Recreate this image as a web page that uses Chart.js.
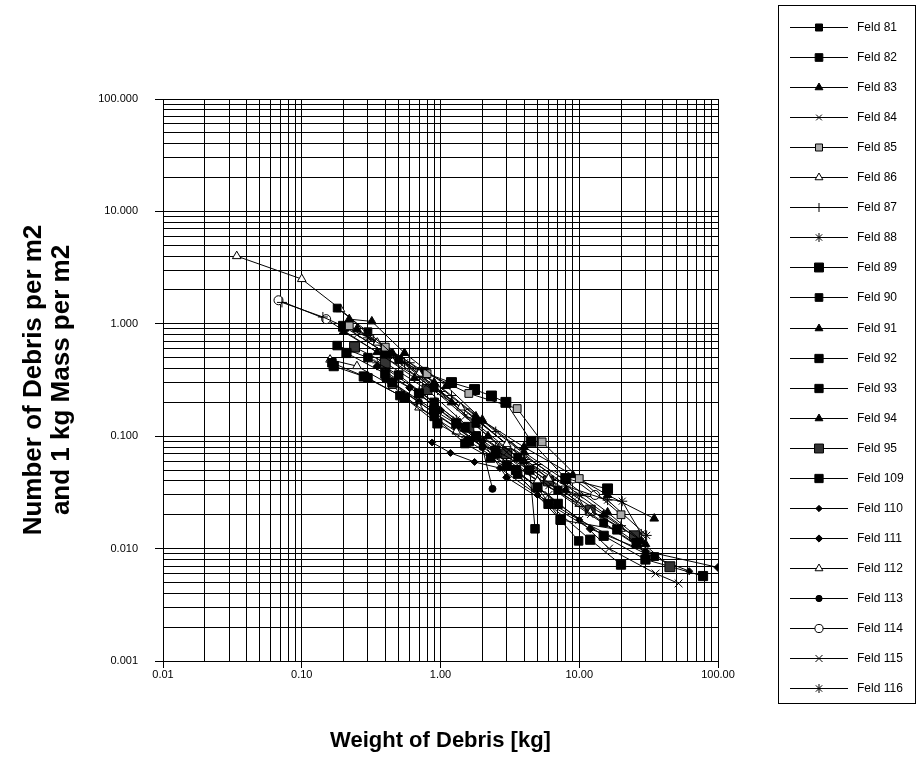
<!doctype html>
<html>
<head>
<title>Debris per m2</title>
<script src="https://cdn.jsdelivr.net/npm/chart.js@4.4.1/dist/chart.umd.min.js"></script>
<style>
  html, body { margin: 0; padding: 0; background: #fff; }
</style>
</head>
<body>
<canvas id="chart" width="918" height="764"></canvas>
<script>
// decade ticks and their labels
const xTicks = [0.01, 0.1, 1, 10, 100];
const xTickLabels = ['0.01', '0.10', '1.00', '10.00', '100.00'];
const yTicks = [0.001, 0.01, 0.1, 1, 10, 100];
const yTickLabels = ['0.001', '0.010', '0.100', '1.000', '10.000', '100.000'];

// series: [weight kg, number per m2]
const feld81 = [[0.18,1.38],[0.3,0.85],[0.5,0.48],[0.9,0.27],[1.8,0.13],[3.6,0.065],[7,0.033],[15,0.017],[35,0.0085]];
const feld82 = [[0.165,0.45],[0.3,0.33],[0.51,0.23],[0.9,0.15],[1.5,0.086],[2.3,0.064],[3.6,0.046],[7.3,0.018],[9.9,0.0117]];
const feld83 = [[0.22,1.1],[0.32,1.05],[0.55,0.55],[1.1,0.28],[2,0.14],[4,0.072],[8,0.04],[16,0.021],[30,0.011]];
const feld84 = [[0.25,0.8],[0.45,0.5],[0.8,0.29],[1.5,0.15],[3,0.072],[6,0.036],[12,0.02],[25,0.011]];
const feld85 = [[0.22,0.96],[0.4,0.62],[0.8,0.36],[1.6,0.24],[3.57,0.176],[5.4,0.089],[10,0.042],[20,0.02]];
const feld86 = [[0.034,4.0],[0.1,2.5],[0.19,1.35],[0.35,0.68],[0.7,0.36],[1.4,0.18],[3,0.085],[6,0.042],[12,0.021]];
const feld87 = [[0.072,1.55],[0.142,1.15],[0.33,0.72],[0.6,0.45],[1.2,0.23],[2.5,0.11],[5,0.056],[10,0.03],[20,0.016]];
const feld88 = [[0.3,0.75],[0.55,0.45],[1,0.25],[2,0.13],[4,0.062],[8,0.036],[16,0.027],[30.6,0.0131]];
const feld89 = [[0.2,0.95],[0.4,0.55],[0.75,0.37],[1.2,0.3],[1.76,0.26],[2.33,0.228],[2.96,0.2],[4.5,0.09],[8,0.042],[16,0.034]];
const feld90 = [[0.18,0.64],[0.3,0.5],[0.5,0.35],[0.9,0.2],[1.5,0.12],[2.5,0.075],[4.4,0.05],[4.8,0.015]];
const feld91 = [[0.2,0.85],[0.35,0.56],[0.65,0.33],[1.2,0.2],[2.2,0.1],[4,0.06],[8,0.033],[15,0.02],[28,0.0117]];
const feld92 = [[0.17,0.42],[0.28,0.34],[0.55,0.22],[0.95,0.13],[1.6,0.09],[3,0.055],[6,0.025],[12,0.012],[20,0.0072]];
const feld93 = [[0.21,0.55],[0.4,0.36],[0.7,0.24],[1.3,0.13],[2.5,0.07],[5,0.035],[7.35,0.018],[18.8,0.0148],[25.9,0.0112]];
const feld94 = [[0.25,0.9],[0.45,0.55],[0.9,0.3],[1.8,0.15],[4,0.08],[9,0.045],[16,0.03],[34.7,0.0185]];
const feld95 = [[0.24,0.62],[0.4,0.45],[0.8,0.26],[1.6,0.12],[3,0.07],[6,0.04],[12,0.022],[25,0.013],[45,0.0069]];
const feld109 = [[0.45,0.3],[0.9,0.17],[1.8,0.1],[3.5,0.05],[7,0.025],[15,0.013],[30,0.008],[78,0.0057]];
const feld110 = [[0.87,0.088],[1.18,0.071],[1.76,0.059],[2.68,0.052],[5,0.03],[10,0.018],[30,0.009],[62,0.0063]];
const feld111 = [[0.35,0.42],[0.6,0.27],[1,0.17],[2,0.09],[3,0.043],[6,0.025],[12,0.015],[30,0.0095],[100,0.0068]];
const feld112 = [[0.16,0.48],[0.25,0.42],[0.45,0.28],[0.7,0.18],[1.3,0.11],[2.6,0.07],[5,0.04],[10,0.025],[20,0.015]];
const feld113 = [[0.4,0.32],[0.7,0.2],[1.3,0.12],[2,0.08],[2.37,0.034]];
const feld114 = [[0.068,1.62],[0.15,1.1],[0.4,0.5],[0.8,0.3],[1.6,0.16],[3.2,0.08],[6.5,0.045],[9,0.042],[13,0.03]];
const feld115 = [[0.45,0.3],[0.9,0.16],[1.6,0.1],[3,0.055],[6,0.03],[10,0.018],[16.4,0.01],[35.5,0.006],[52,0.0049]];
const feld116 = [[0.35,0.45],[0.7,0.25],[1.3,0.14],[2.5,0.08],[5,0.04],[10,0.03],[20.4,0.0264],[28,0.0135]];

const names = ['Feld 81','Feld 82','Feld 83','Feld 84','Feld 85','Feld 86','Feld 87','Feld 88','Feld 89','Feld 90','Feld 91','Feld 92',
  'Feld 93','Feld 94','Feld 95','Feld 109','Feld 110','Feld 111','Feld 112','Feld 113','Feld 114','Feld 115','Feld 116'];
const series = [feld81,feld82,feld83,feld84,feld85,feld86,feld87,feld88,feld89,feld90,feld91,feld92,
  feld93,feld94,feld95,feld109,feld110,feld111,feld112,feld113,feld114,feld115,feld116];

// marker look per series: [style, radius, fill]
const markers = [
  ['rect',5.5,'#000'],['rect',6,'#000'],['triangle',5,'#000'],['crossRot',4.5,'#000'],['rect',5.5,'#aaa'],
  ['triangle',5,'#fff'],['cross',5,'#000'],['star',5,'#000'],['rect',7,'#000'],['rect',6,'#000'],
  ['triangle',5,'#000'],['rect',6.5,'#000'],['rect',6.5,'#000'],['triangle',5,'#000'],['rect',7,'#333'],
  ['rect',6.5,'#000'],['rectRot',3.5,'#000'],['rectRot',4,'#000'],['triangle',5,'#fff'],['circle',3.5,'#000'],
  ['circle',4.5,'#fff'],['crossRot',5.5,'#000'],['star',5,'#000']
];

function gridValues(decades) {
  const out = [];
  for (let i = 0; i < decades.length - 1; i++) {
    for (let k = 1; k <= 9; k++) out.push(+(k * decades[i]).toPrecision(6));
  }
  out.push(decades[decades.length - 1]);
  return out;
}
function decadeIndex(list, v) {
  return list.findIndex(t => Math.abs(t - v) / t < 1e-6);
}

const datasets = series.map((s, i) => ({
  label: names[i],
  data: s.map(p => ({ x: p[0], y: p[1] })),
  showLine: true,
  borderColor: '#000',
  borderWidth: 1,
  pointStyle: markers[i][0],
  pointRadius: markers[i][1],
  pointHoverRadius: markers[i][1],
  pointBackgroundColor: markers[i][2],
  pointBorderColor: '#000',
  pointBorderWidth: 1
}));

// boxed legend on the right, line + marker + name
const sideLegend = {
  id: 'sideLegend',
  afterDraw(chart) {
    const ctx = chart.ctx;
    ctx.save();
    ctx.strokeStyle = '#000';
    ctx.lineWidth = 1;
    ctx.strokeRect(778.5, 5.5, 137, 698);
    chart.data.datasets.forEach((ds, i) => {
      const y = Math.round(27 + i * 30.05) + 0.5;
      ctx.strokeStyle = '#000';
      ctx.lineWidth = 1;
      ctx.beginPath();
      ctx.moveTo(790, y);
      ctx.lineTo(848, y);
      ctx.stroke();
      ctx.fillStyle = ds.pointBackgroundColor;
      Chart.helpers.drawPoint(ctx, {
        pointStyle: ds.pointStyle, radius: ds.pointRadius * 0.9,
        borderWidth: 1, rotation: 0
      }, 819, y);
      ctx.fillStyle = '#000';
      ctx.font = '12px "Liberation Sans", Arial, sans-serif';
      ctx.textBaseline = 'middle';
      ctx.textAlign = 'left';
      ctx.fillText(ds.label, 857, y);
    });
    ctx.restore();
  }
};

const tickFont = { family: '"Liberation Sans", Arial, sans-serif', size: 11 };

new Chart(document.getElementById('chart').getContext('2d'), {
  type: 'scatter',
  data: { datasets },
  plugins: [sideLegend],
  options: {
    responsive: false,
    devicePixelRatio: 1,
    animation: false,
    layout: { padding: { left: 0, top: 99, right: 200, bottom: 0 } },
    plugins: { legend: { display: false }, tooltip: { enabled: false } },
    scales: {
      x: {
        type: 'logarithmic',
        min: 0.01, max: 100,
        afterBuildTicks: s => { s.ticks = gridValues(xTicks).map(v => ({ value: v })); },
        afterFit: s => { s.height = 103; },
        ticks: {
          autoSkip: false, maxRotation: 0, minRotation: 0, padding: 0,
          color: '#000', font: tickFont,
          callback: v => { const i = decadeIndex(xTicks, v); return i >= 0 ? xTickLabels[i] : ''; }
        },
        grid: {
          color: '#000', lineWidth: 1, tickLength: 7,
          tickColor: c => decadeIndex(xTicks, c.tick.value) >= 0 ? '#000' : 'rgba(0,0,0,0)'
        },
        border: { color: '#000', width: 1 },
        title: {
          display: true, text: 'Weight of Debris [kg]', color: '#000',
          font: { family: '"Liberation Sans", Arial, sans-serif', size: 22, weight: 'bold' },
          padding: { top: 0, bottom: 10 }
        }
      },
      y: {
        type: 'logarithmic',
        min: 0.001, max: 100,
        afterBuildTicks: s => { s.ticks = gridValues(yTicks).map(v => ({ value: v })); },
        afterFit: s => { s.width = 163; },
        ticks: {
          autoSkip: false, padding: 17,
          color: '#000', font: tickFont,
          callback: v => { const i = decadeIndex(yTicks, v); return i >= 0 ? yTickLabels[i] : ''; }
        },
        grid: {
          color: '#000', lineWidth: 1, tickLength: 8,
          tickColor: c => decadeIndex(yTicks, c.tick.value) >= 0 ? '#000' : 'rgba(0,0,0,0)'
        },
        border: { color: '#000', width: 1 },
        title: {
          display: true, text: ['Number of Debris per m2', 'and 1 kg Mass per m2'], color: '#000',
          font: { family: '"Liberation Sans", Arial, sans-serif', size: 26, weight: 'bold', lineHeight: 1.08 },
          padding: { top: 20, bottom: 0 }
        }
      }
    }
  }
});
</script>
</body>
</html>
